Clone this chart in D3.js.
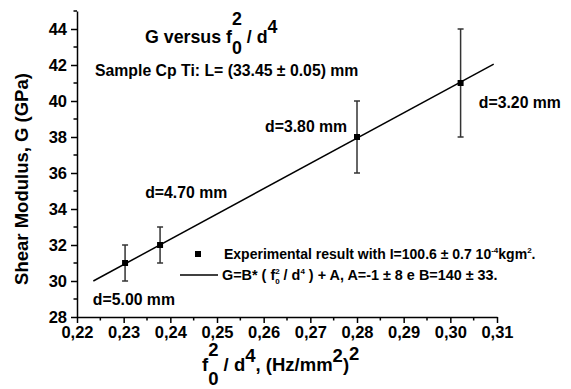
<!DOCTYPE html>
<html>
<head>
<meta charset="utf-8">
<script src="https://cdn.jsdelivr.net/npm/d3@7"></script>
<style>
  body { margin: 0; background: #fff; }
  svg { display: block; font-family: "Liberation Sans", Arial, sans-serif; font-weight: bold; }
</style>
</head>
<body>
<div id="chart"></div>
<script>
// measured values
const fValues = [0.2303, 0.2378, 0.2800, 0.3022];   // f0^2/d^4
const gValues = [31, 32, 38, 41];                     // G (GPa)
const gErrors = [1, 1, 2, 3];
const fitF = [0.2235, 0.3093];
const fitG = [30.0, 42.05];
const dLabels = ["d=5.00 mm", "d=4.70 mm", "d=3.80 mm", "d=3.20 mm"];
const dLabelF = [0.2234, 0.2346, 0.2603, 0.3061];
const dLabelG = [28.67, 34.61, 38.28, 39.61];
const xTicks = [0.22, 0.23, 0.24, 0.25, 0.26, 0.27, 0.28, 0.29, 0.30, 0.31];
const yTicks = [28, 30, 32, 34, 36, 38, 40, 42, 44];

const width = 571, height = 389;

let svg = d3.select("#chart")
    .append("svg")
    .attr("width", width)
    .attr("height", height);

let x = d3.scaleLinear().domain([0.22, 0.31]).range([77, 497]);
let y = d3.scaleLinear().domain([28, 45]).range([317, 11]);

// draws a row of text pieces; a piece may be plain text or a stacked sup/sub
function richText(parent, x0, y0, parts, size) {
    let g = parent.append("g");
    let cx = x0;
    parts.forEach(p => {
        if (p.t !== undefined) {
            let el = g.append("text")
                .attr("x", cx).attr("y", y0 + (p.dy || 0))
                .attr("font-size", p.size || size)
                .attr("xml:space", "preserve")
                .style("white-space", "pre")
                .text(p.t);
            cx += el.node().getComputedTextLength();
        } else {
            let w = 0;
            if (p.sup) {
                let el = g.append("text")
                    .attr("x", cx).attr("y", y0 + p.supDy)
                    .attr("font-size", p.size || size)
                    .text(p.sup);
                w = Math.max(w, el.node().getComputedTextLength());
            }
            if (p.sub) {
                let el = g.append("text")
                    .attr("x", cx).attr("y", y0 + p.subDy)
                    .attr("font-size", p.size || size)
                    .text(p.sub);
                w = Math.max(w, el.node().getComputedTextLength());
            }
            cx += w;
        }
    });
    return g;
}

// axes
let xAxis = d3.axisBottom(x)
    .tickValues(xTicks)
    .tickSize(6)
    .tickSizeOuter(0)
    .tickPadding(3)
    .tickFormat(d => d3.format(".2f")(d).replace(".", ","));
let gx = svg.append("g")
    .attr("transform", "translate(0,317)")
    .call(xAxis);

let yAxis = d3.axisLeft(y)
    .tickValues(yTicks)
    .tickSize(6)
    .tickSizeOuter(0)
    .tickPadding(4);
let gy = svg.append("g")
    .attr("transform", "translate(77,0)")
    .call(yAxis);

// minor ticks
let xMinor = d3.range(0.225, 0.31, 0.01);
svg.append("g").selectAll("line")
    .data(xMinor).enter().append("line")
    .attr("x1", d => x(d)).attr("x2", d => x(d))
    .attr("y1", 317).attr("y2", 320.5)
    .attr("stroke", "#000").attr("stroke-width", 1.5);
let yMinor = d3.range(29, 46, 2);
svg.append("g").selectAll("line")
    .data(yMinor).enter().append("line")
    .attr("x1", 77).attr("x2", 73.5)
    .attr("y1", d => y(d)).attr("y2", d => y(d))
    .attr("stroke", "#000").attr("stroke-width", 1.5);

[gx, gy].forEach(a => {
    a.select(".domain").attr("stroke-width", 1.5);
    a.selectAll(".tick line").attr("stroke-width", 1.5);
    a.selectAll(".tick text")
        .attr("font-family", "Liberation Sans, Arial, sans-serif")
        .attr("font-weight", "bold")
        .attr("font-size", 16.5)
        .attr("fill", "#000");
});

// fit line
svg.append("path")
    .datum(d3.zip(fitF, fitG))
    .attr("fill", "none")
    .attr("stroke", "#000")
    .attr("stroke-width", 1.5)
    .attr("d", d3.line().x(d => x(d[0])).y(d => y(d[1])));

// error bars
let pts = fValues.map((f, i) => ({ f: f, g: gValues[i], e: gErrors[i] }));
let eb = svg.append("g").attr("stroke", "#333").attr("stroke-width", 1.5);
eb.selectAll("line.v").data(pts).enter().append("line")
    .attr("x1", d => x(d.f)).attr("x2", d => x(d.f))
    .attr("y1", d => y(d.g - d.e)).attr("y2", d => y(d.g + d.e));
eb.selectAll("line.t").data(pts).enter().append("line")
    .attr("x1", d => x(d.f) - 3).attr("x2", d => x(d.f) + 3)
    .attr("y1", d => y(d.g + d.e)).attr("y2", d => y(d.g + d.e));
eb.selectAll("line.b").data(pts).enter().append("line")
    .attr("x1", d => x(d.f) - 3).attr("x2", d => x(d.f) + 3)
    .attr("y1", d => y(d.g - d.e)).attr("y2", d => y(d.g - d.e));

// points
svg.append("g").selectAll("rect").data(pts).enter().append("rect")
    .attr("x", d => x(d.f) - 3).attr("y", d => y(d.g) - 3)
    .attr("width", 6).attr("height", 6)
    .attr("fill", "#000");

// d labels
svg.append("g").selectAll("text").data(dLabels).enter().append("text")
    .attr("x", (d, i) => x(dLabelF[i]))
    .attr("y", (d, i) => y(dLabelG[i]))
    .attr("font-size", 15.8)
    .text(d => d);

// title
richText(svg, 145, 43, [
    { t: "G versus f" },
    { sup: "2", sub: "0", supDy: -18, subDy: 11 },
    { t: " / d" },
    { sup: "4", supDy: -10 }
], 17.8);

svg.append("text")
    .attr("x", 95).attr("y", 76)
    .attr("font-size", 15.8)
    .text("Sample Cp Ti: L= (33.45 \u00b1 0.05) mm");

// y axis title
svg.append("text")
    .attr("transform", "translate(28,179) rotate(-90)")
    .attr("text-anchor", "middle")
    .attr("font-size", 18.5)
    .text("Shear Modulus, G (GPa)");

// x axis title
richText(svg, 202, 371, [
    { t: "f" },
    { sup: "2", sub: "0", supDy: -15, subDy: 14 },
    { t: " / d" },
    { sup: "4", supDy: -9 },
    { t: ", (Hz/mm" },
    { sup: "2", supDy: -9 },
    { t: ")" },
    { sup: "2", supDy: -11 }
], 18.5);

// legend
svg.append("rect")
    .attr("x", 195).attr("y", 251).attr("width", 6).attr("height", 6)
    .attr("fill", "#000");
richText(svg, 224, 259, [
    { t: "Experimental result with I=100.6 \u00b1 0.7 10" },
    { sup: "-4", supDy: -6, size: 8 },
    { t: "kgm" },
    { sup: "2", supDy: -6, size: 8 },
    { t: "." }
], 14);

svg.append("line")
    .attr("x1", 180).attr("x2", 218)
    .attr("y1", 275).attr("y2", 275)
    .attr("stroke", "#000").attr("stroke-width", 1.5);
richText(svg, 222, 280, [
    { t: "G=B* ( f" },
    { sup: "2", sub: "0", supDy: -6, subDy: 4, size: 8 },
    { t: " / d" },
    { sup: "4", supDy: -6, size: 8 },
    { t: " ) + A, A=-1 \u00b1 8 e B=140 \u00b1 33." }
], 14.4);
</script>
</body>
</html>
